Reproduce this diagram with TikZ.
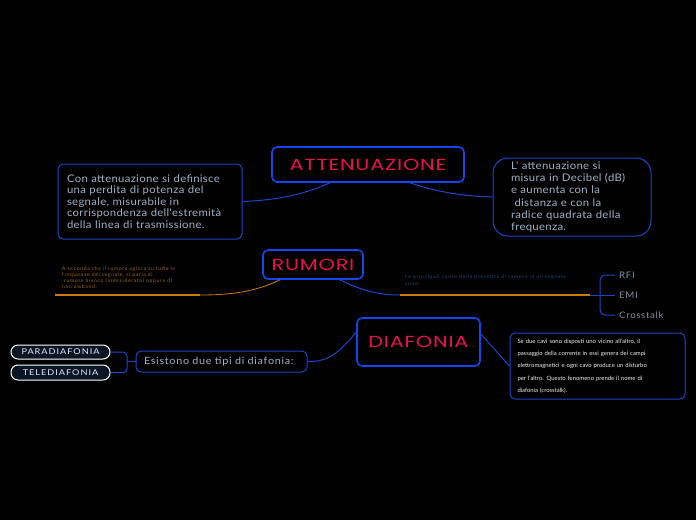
\documentclass[tikz,border=0pt]{standalone}
\usepackage{fontspec}
\setmainfont{Lato}
\newfontfamily\titlefont[FakeStretch=1.3,LetterSpace=5]{Poppins}
\newfontfamily\bodyfont[FakeStretch=1.08,LetterSpace=3]{Lato}
\newfontfamily\wideboxfont[FakeStretch=1.08,LetterSpace=7]{Lato}
\newfontfamily\pillfont[FakeStretch=1.15,LetterSpace=12]{Lato}
\newfontfamily\leaffont[FakeStretch=1.08,LetterSpace=7]{Lato}
\newfontfamily\tinyfont[LetterSpace=14]{Lato}
\newfontfamily\tinywidefont[LetterSpace=15]{Lato}
\definecolor{topicblue}{HTML}{1446F0}
\definecolor{lineblue}{HTML}{1E46C8}
\definecolor{titlered}{HTML}{E8114F}
\definecolor{bodytxt}{HTML}{A2B2C4}
\definecolor{orangeline}{HTML}{D07A08}
\definecolor{orangetxt}{HTML}{A06A10}
\definecolor{darkbluetxt}{HTML}{1F4E80}
\definecolor{pillfill}{HTML}{0A1624}
\begin{document}
\begin{tikzpicture}[x=1pt,y=-1pt,
  topic/.style={draw=topicblue, line width=1.6pt, rounded corners=5pt, fill=black,
    text=titlered, font=\titlefont\fontsize{16}{18}\selectfont, inner sep=0pt, align=center},
  subbox/.style={draw=lineblue, line width=1pt, rounded corners=5pt, fill=black,
    text=bodytxt, inner sep=0pt, align=left},
  conn/.style={draw=lineblue, line width=1pt},
  oconn/.style={draw=orangeline, line width=1.6pt},
  pill/.style={draw=white, line width=1pt, rounded corners=7pt, fill=pillfill,
    text=white!90!blue, font=\pillfont\fontsize{8}{9}\selectfont, inner sep=0pt, align=center},
  leaf/.style={text=bodytxt!80!black, font=\leaffont\fontsize{9}{10}\selectfont, inner sep=0pt, anchor=west}
]
\fill[black] (0,0) rectangle (696,520);
\useasboundingbox (0,0) rectangle (696,520);

% ATTENUAZIONE
\node[topic, minimum width=192pt, minimum height=35pt] (att) at (368,164.5) {ATTENUAZIONE};
\node[subbox, minimum width=184pt, minimum height=75pt, text width=166pt,
  font=\bodyfont\fontsize{10.5}{11.6}\selectfont] (attL) at (150,201.5)
  {Con attenuazione si definisce\\una perdita di potenza del\\segnale, misurabile in\\corrispondenza dell'estremità\\della linea di trasmissione.};
\node[subbox, rounded corners=15pt, minimum width=158pt, minimum height=78pt, text width=122pt,
  font=\bodyfont\fontsize{10.5}{12.2}\selectfont] (attR) at (572,197)
  {L' attenuazione si\\misura in Decibel (dB)\\e aumenta con la\\\ distanza e con la\\radice quadrata della\\frequenza.};
\draw[conn] ([xshift=-38pt]att.south) .. controls (300,196) and (275,200) .. (attL.east);
\draw[conn] ([xshift=42pt]att.south) .. controls (440,193) and (465,196) .. (attR.west);

% RUMORI
\node[topic, minimum width=100pt, minimum height=29pt] (rum) at (313,264.5) {RUMORI};
\coordinate (rLmid) at (200,295);
\coordinate (rLend) at (55,295);
\coordinate (rRmid) at (400,295);
\coordinate (rRend) at (590,295);
\coordinate (br) at (600,295);
\draw[orangeline, line width=0.8pt] ([xshift=-33pt]rum.south) .. controls (255,292) and (230,295) .. (rLmid);
\draw[oconn] (rLmid) -- (rLend);
\draw[conn] ([xshift=27pt]rum.south) .. controls (362,291) and (380,295) .. (rRmid);
\draw[oconn] (rRmid) -- (rRend);
\draw[conn] (rRend) -- (br);
\node[text=orangetxt, font=\tinyfont\fontsize{5}{6}\selectfont, align=left, anchor=north west, inner sep=0pt] (rumLtxt) at (62,266.5)
  {A seconda che il rumore agisca su tutte le\\frequenze del segnale, si parla di\\\ rumore bianco (indesiderato) oppure di\\narrowband.};
\node[text=darkbluetxt, font=\tinywidefont\fontsize{5}{7}\selectfont, align=left, anchor=north west, inner sep=0pt] (rumRtxt) at (405,274.5)
  {Le principali cause della presenza di rumore in un segnale\\sono:};
\node[leaf] (rfi) at (619,275) {RFI};
\node[leaf] (emi) at (619,295) {EMI};
\node[leaf] (cross) at (619,315) {Crosstalk};
\draw[conn, rounded corners=5pt] ([xshift=-4pt]rfi.west) -- (br |- rfi.west) -- (br |- cross.west) -- ([xshift=-4pt]cross.west);
\draw[conn] (br) -- ([xshift=-4pt]emi.west);

% DIAFONIA
\node[topic, minimum width=123pt, minimum height=48pt] (dia) at (418.5,342) {DIAFONIA};
\node[subbox, minimum width=175pt, minimum height=66pt, text width=160pt, text=white!80!bodytxt,
  font=\fontsize{5.9}{12.4}\selectfont] (diaR) at (597.5,366)
  {Se due cavi sono disposti uno vicino all'altro, il\\passaggio della corrente in essi genera dei campi\\elettromagnetici e ogni cavo produce un disturbo\\per l'altro. Questo fenomeno prende il nome di\\diafonia (crosstalk).};
\node[subbox, minimum width=171pt, minimum height=21pt, text width=155pt,
  font=\wideboxfont\fontsize{10}{11}\selectfont] (esi) at (221.5,361.5) {Esistono due tipi di diafonia:};
\draw[conn] ([yshift=10pt]dia.west) .. controls (335,358) and (325,361.5) .. (esi.east);
\draw[conn] ([yshift=8pt]dia.east) -- (diaR.west);
\node[pill, minimum width=99pt, minimum height=14pt] (para) at (60.5,352) {PARADIAFONIA};
\node[pill, minimum width=99pt, minimum height=15pt] (tele) at (60.5,372.5) {TELEDIAFONIA};
\coordinate (bl) at (127,361.5);
\draw[conn, rounded corners=4pt] (para.east) -- (bl |- para.east) -- (bl |- tele.east) -- (tele.east);
\draw[conn] (esi.west) -- (bl);
\end{tikzpicture}
\end{document}
